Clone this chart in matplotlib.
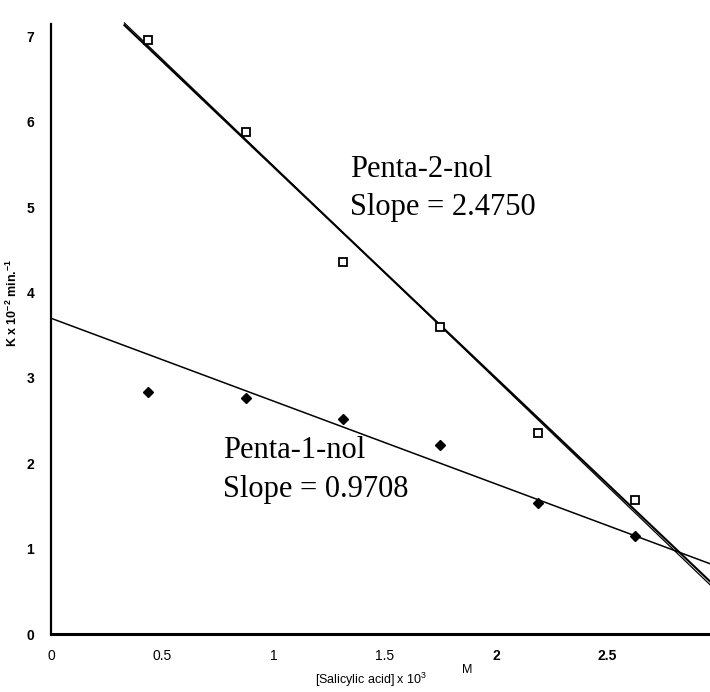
import matplotlib
matplotlib.use('Agg')
import matplotlib.pyplot as plt
import numpy as np

plt.rcParams['font.family'] = ['Liberation Sans', 'DejaVu Sans']
plt.rcParams['mathtext.default'] = 'regular'

# salicylic acid concentration (x 10^3 M)
conc = [0.4375, 0.875, 1.3125, 1.75, 2.1875, 2.625]
# rate constants, K x 10^2 min^-1
k_penta2 = [6.96, 5.88, 4.36, 3.60, 2.36, 1.57]
k_penta1 = [2.83, 2.77, 2.52, 2.22, 1.54, 1.15]

# fitted lines (K = intercept - slope * conc)
slope_penta2 = 2.4750
icpt_penta2 = 7.95
slope_penta2_b = 2.50
icpt_penta2_b = 7.985
slope_penta1 = 0.9708
icpt_penta1 = 3.70

xticks = [0, 0.5, 1, 1.5, 2, 2.5]
xticklabels = ['0', '0.5', '1', '1.5', '2', '2.5']
yticks = [0, 1, 2, 3, 4, 5, 6, 7]

W, H = 710, 692
fig = plt.figure(figsize=(W / 100, H / 100), dpi=100)
ax = fig.add_axes([51 / W, 58 / H, 1 - 51 / W, 623 / H])
ax.set_xlim(0, 2.963)
ax.set_ylim(0, 7.3)

# regression lines
xa = np.linspace(0.33, 2.963, 50)
ax.plot(xa, icpt_penta2 - slope_penta2 * xa, color='black', lw=1.5)
ax.plot(xa, icpt_penta2_b - slope_penta2_b * xa, color='black', lw=0.9)
xc = np.linspace(0, 2.963, 50)
ax.plot(xc, icpt_penta1 - slope_penta1 * xc, color='black', lw=1.1)

# data points
ax.plot(conc, k_penta2, ls='none', marker='s', ms=6, mfc='white',
        mec='black', mew=1.3)
ax.plot(conc, k_penta1, ls='none', marker='D', ms=5, color='black')

for s in ['top', 'right']:
    ax.spines[s].set_visible(False)
ax.spines['left'].set_bounds(0, 7.15)
ax.spines['left'].set_linewidth(1.6)
ax.spines['bottom'].set_linewidth(2.2)

ax.set_xticks(xticks)
ax.set_xticklabels(xticklabels)
ax.set_yticks(yticks)
ax.tick_params(axis='both', length=0)
ax.tick_params(axis='x', pad=11, labelsize=10)
ax.tick_params(axis='y', pad=12, labelsize=10)
for lab in ax.get_yticklabels():
    lab.set_fontweight('bold')
for lab in ax.get_xticklabels()[4:]:
    lab.set_fontweight('bold')

# axis titles
fig.text(12 / W, 1 - 303 / H, 'K x 10$^{-2}$ min.$^{-1}$', rotation=90,
         ha='center', va='center', fontsize=9, fontweight='bold')
fig.text(315 / W, 1 - 684 / H, '[Salicylic acid] x 10$^{3}$',
         ha='left', va='baseline', fontsize=9)
fig.text(462 / W, 1 - 673 / H, 'M', ha='left', va='baseline', fontsize=9)

# series annotations
serif = dict(family=['Liberation Serif', 'DejaVu Serif'], fontsize=22)
fig.text(350 / W, 1 - 177 / H, 'Penta-2-nol', va='baseline', **serif)
fig.text(350 / W, 1 - 215 / H, 'Slope = 2.4750', va='baseline', **serif)
fig.text(223 / W, 1 - 458 / H, 'Penta-1-nol', va='baseline', **serif)
fig.text(223 / W, 1 - 497 / H, 'Slope = 0.9708', va='baseline', **serif)

fig.savefig('out.png', dpi=100)
